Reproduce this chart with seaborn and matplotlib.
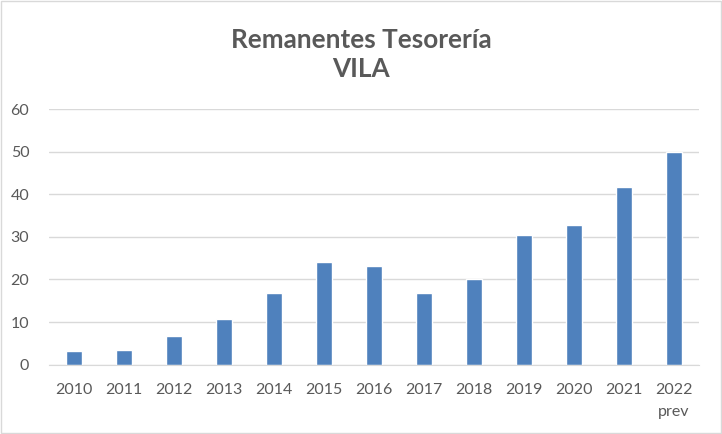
import seaborn as sns
import matplotlib.pyplot as plt
from matplotlib.patches import Rectangle

years = ['2010', '2011', '2012', '2013', '2014', '2015', '2016',
         '2017', '2018', '2019', '2020', '2021', '2022\nprev']
remanentes = [3.1, 3.5, 6.8, 10.8, 16.9, 24.0, 23.2, 16.9, 20.1, 30.4, 32.7, 41.8, 50.0]
y_ticks = [0, 10, 20, 30, 40, 50, 60]

sns.set_style('white')
plt.rcParams['font.family'] = ['Lato', 'DejaVu Sans']

fig = plt.figure(figsize=(7.22, 4.34), dpi=100)
ax = fig.add_axes([0.0676, 0.160, 0.9004, 0.588])

sns.barplot(x=years, y=remanentes, color='#4F81BD', saturation=1, width=0.31, ax=ax)

ax.set_ylim(0, 60)
ax.set_yticks(y_ticks)
ax.set_xlim(-0.5, len(years) - 0.5)
ax.yaxis.grid(True, color='#D9D9D9', linewidth=1)
ax.set_axisbelow(True)
for side in ['top', 'right', 'left']:
    ax.spines[side].set_visible(False)
ax.spines['bottom'].set_color('#D9D9D9')
ax.tick_params(axis='both', length=0, labelsize=11.5, colors='#595959')
ax.tick_params(axis='y', pad=14)
ax.tick_params(axis='x', pad=13)
for lbl in ax.get_xticklabels():
    lbl.set_linespacing(1.75)

fig.text(0.5, 0.935, 'Remanentes Tesorería\nVILA', ha='center', va='top',
         fontsize=18.8, fontweight='bold', color='#595959', linespacing=1.25)

# chart border
fig.patches.append(Rectangle((0.002, 0.003), 0.996, 0.994, transform=fig.transFigure,
                             fill=False, edgecolor='#D9D9D9', linewidth=1))

plt.savefig('out.png', dpi=100)
